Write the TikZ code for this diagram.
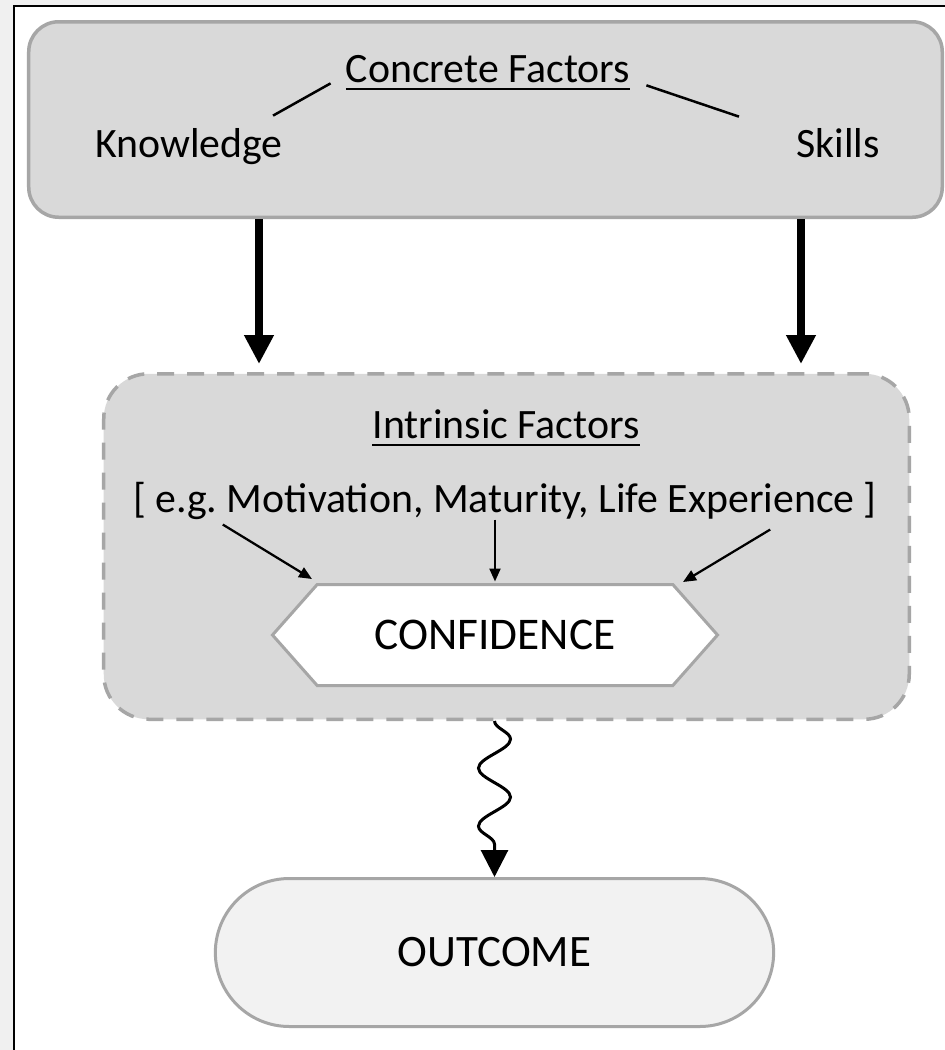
\documentclass[tikz,border=0pt]{standalone}
\usepackage{fontspec}
\setmainfont{Carlito}
\usepackage{xcolor}
\usepackage{tikz}
\usetikzlibrary{shapes.misc,shapes.symbols,arrows.meta,positioning,calc,decorations.pathmorphing}

\definecolor{panelgray}{HTML}{D9D9D9}
\definecolor{edgegray}{HTML}{A6A6A6}
\definecolor{pillgray}{HTML}{F2F2F2}
\definecolor{pagegray}{HTML}{F0F0F0}

% thick underline for the two headings
\newcommand{\undertitle}[1]{\setbox0=\hbox{#1}\rlap{\vrule height -1.1mm depth 1.6mm width \wd0}\box0}

\frenchspacing

\begin{document}
\begin{tikzpicture}[
		x=0.2mm, y=-0.2mm,
		font=\fontsize{23.8}{28}\selectfont,
		label/.style={inner sep=0pt, anchor=base},
		panel/.style={rounded corners=6mm, fill=panelgray, draw=edgegray, line width=0.7mm},
		dashpanel/.style={panel, rounded corners=9mm, dash pattern=on 3.4mm off 2.6mm},
		conf/.style={signal, signal to=west and east, signal pointer angle=97, fill=white,
			draw=edgegray, line width=0.6mm, minimum width=89mm, minimum height=20.2mm,
			font=\fontsize{25.8}{30}\selectfont},
		pill/.style={rounded rectangle, fill=pillgray, draw=edgegray, line width=0.6mm,
			minimum width=114mm, minimum height=29.6mm, font=\fontsize{25.6}{30}\selectfont},
		bigarrow/.style={line width=1.6mm, -{Triangle[width=5.6mm,length=5.8mm]}},
		thinarrow/.style={line width=0.45mm, -{Triangle[width=2.2mm,length=2.6mm]}},
		link/.style={line width=0.5mm},
		wavy/.style={line width=0.6mm, decorate,
			decoration={snake, amplitude=3.2mm, segment length=11.6mm, post length=2.5mm},
			-{Triangle[width=5.4mm,length=5.4mm]}},
	]
	\useasboundingbox (0,0) rectangle (945,1050);
	\fill[pagegray] (0,0) rectangle (945,1050);
	\draw[line width=0.4mm, fill=white] (14,6) rectangle (990,1100);

	% boxes
	\node[panel, minimum width=182.7mm, minimum height=39.1mm] (concrete) at (485.5,119.5) {};
	\node[dashpanel, minimum width=161.1mm, minimum height=69.1mm] (intrinsic) at (506.5,546.5) {};

	\node[label] (cf) at (488,82) {\undertitle{Concrete Factors}};
	\node[label] (kn) at (189,157) {Knowledge};
	\node[label] (sk) at (838,157) {Skills};
	\draw[link] ([shift={(-15,-7)}]cf.south west) -- ([shift={(-10,-12)}]kn.north east);
	\draw[link] ([shift={(16,-5)}]cf.south east) -- ([shift={(-57,-11)}]sk.north west);

	\coordinate (kdrop) at (259,0);
	\coordinate (sdrop) at (801,0);
	\draw[bigarrow, shorten >=1.6mm] (concrete.south -| kdrop) -- (intrinsic.north -| kdrop);
	\draw[bigarrow, shorten >=1.6mm] (concrete.south -| sdrop) -- (intrinsic.north -| sdrop);

	\node[label] (ifac) at (506,438) {\undertitle{Intrinsic Factors}};
	\node[label] (eg) at (505,512) {[ e.g. Motivation, Maturity, Life Experience ]};
	\node[conf] (confidence) at (495,635) {CONFIDENCE};

	\draw[thinarrow] ([shift={(90,5)}]eg.south west) -- ([shift={(-183,-4)}]confidence.north);
	\draw[thinarrow] (eg.south -| confidence.north) -- ([yshift=0.3mm]confidence.north);
	\draw[thinarrow] ([shift={(-107,10)}]eg.south east) -- ([shift={(188,-1)}]confidence.north);

	\node[pill] (outcome) at (494.5,952.5) {OUTCOME};
	\draw[wavy] (intrinsic.south -| outcome.north) -- (outcome.north);

\end{tikzpicture}
\end{document}
